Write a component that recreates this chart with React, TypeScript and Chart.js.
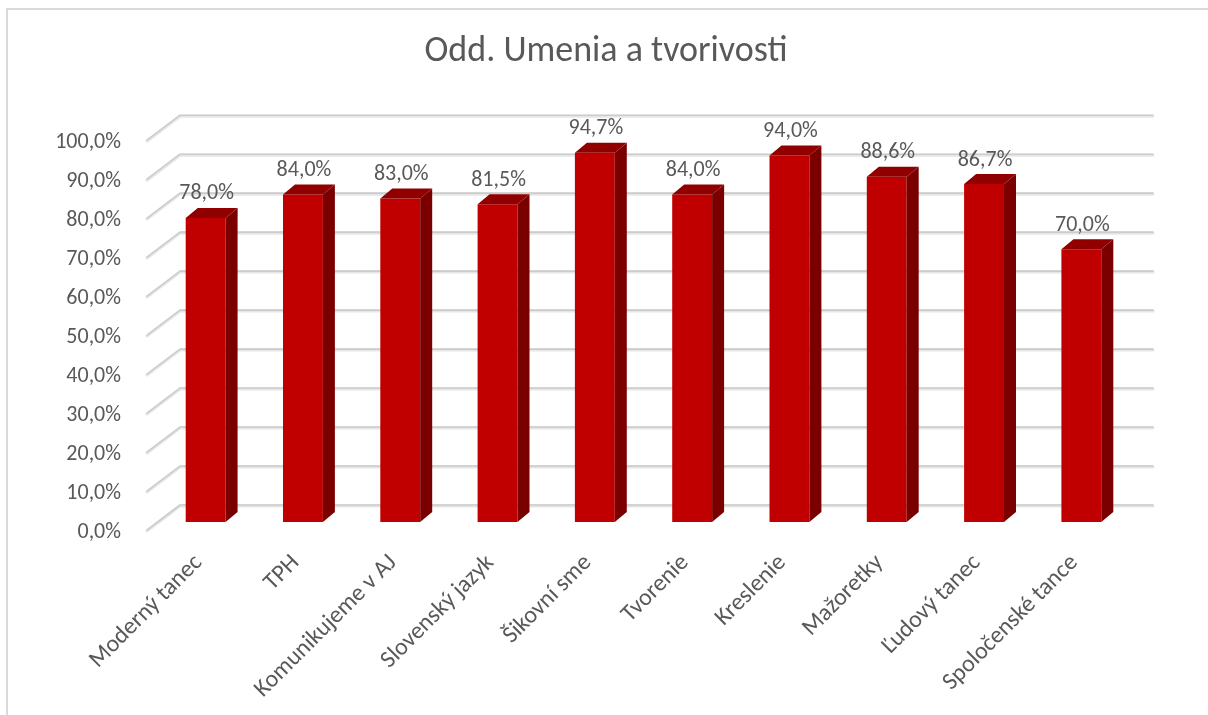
import React, { useEffect, useRef } from 'react';
import { Chart, registerables } from 'chart.js';

Chart.register(...registerables);

const chartTitle = 'Odd. Umenia a tvorivosti';
const categories = [
  'Moderný tanec',
  'TPH',
  'Komunikujeme v AJ',
  'Slovenský jazyk',
  'Šikovní sme',
  'Tvorenie',
  'Kreslenie',
  'Mažoretky',
  'Ľudový tanec',
  'Spoločenské tance',
];
const values = [78.0, 84.0, 83.0, 81.5, 94.7, 84.0, 94.0, 88.6, 86.7, 70.0];
const yMin = 0;
const yMax = 100;
const yStep = 10;

const FONT = 'Carlito, Calibri, Lato, sans-serif';
const TEXT_COLOR = '#595959';

const fmt = (v: number) => v.toFixed(1).replace('.', ',') + '%';

const DX = 12;
const DY = 10;

const threeD = {
  id: 'threeD',
  beforeDatasetsDraw(chart: any) {
    const { ctx, chartArea, scales } = chart;
    const { left, right } = chartArea;
    const y = scales.y;
    ctx.save();
    y.ticks.forEach((t: any) => {
      const yp = y.getPixelForValue(t.value);
      const pts = [
        [left - 10, yp + 8],
        [left + 23, yp - 17],
        [right + 23, yp - 17],
      ];
      const stroke = (color: string, w: number, off: number) => {
        ctx.beginPath();
        ctx.moveTo(pts[0][0], pts[0][1] + off);
        ctx.lineTo(pts[1][0], pts[1][1] + off);
        ctx.lineTo(pts[2][0], pts[2][1] + off);
        ctx.strokeStyle = color;
        ctx.lineWidth = w;
        ctx.lineCap = 'round';
        ctx.lineJoin = 'round';
        ctx.stroke();
      };
      stroke('#e6e6e6', 3, 1);
      stroke('#cccccc', 1.6, 0);
    });
    ctx.restore();
  },
  afterDatasetsDraw(chart: any) {
    const { ctx } = chart;
    const meta = chart.getDatasetMeta(0);
    ctx.save();
    meta.data.forEach((bar: any, i: number) => {
      const { x, y, width, base } = bar.getProps(['x', 'y', 'width', 'base'], true);
      const l = x - width / 2;
      const r = x + width / 2;
      // side face
      ctx.beginPath();
      ctx.moveTo(r, y);
      ctx.lineTo(r + DX, y - DY);
      ctx.lineTo(r + DX, base - DY);
      ctx.lineTo(r, base);
      ctx.closePath();
      ctx.fillStyle = '#7a0000';
      ctx.fill();
      // top face
      ctx.beginPath();
      ctx.moveTo(l, y);
      ctx.lineTo(l + DX, y - DY);
      ctx.lineTo(r + DX, y - DY);
      ctx.lineTo(r, y);
      ctx.closePath();
      ctx.fillStyle = '#900000';
      ctx.fill();
      // value label
      ctx.fillStyle = TEXT_COLOR;
      ctx.font = `22px ${FONT}`;
      ctx.textAlign = 'center';
      ctx.textBaseline = 'middle';
      ctx.fillText(fmt(values[i]), x + 1, y - 24);
    });
    ctx.restore();
  },
};

export default function App() {
  const ref = useRef<HTMLCanvasElement | null>(null);

  useEffect(() => {
    if (!ref.current) return;
    const chart = new Chart(ref.current, {
      type: 'bar',
      data: {
        labels: categories,
        datasets: [
          {
            data: values,
            backgroundColor: '#c00000',
            borderWidth: 0,
            barPercentage: 0.41,
            categoryPercentage: 1,
          },
        ],
      },
      options: {
        responsive: false,
        animation: false,
        layout: { padding: { left: 4, right: 0, top: 0, bottom: 0 } },
        plugins: {
          legend: { display: false },
          tooltip: { enabled: false },
          title: {
            display: true,
            text: chartTitle,
            color: TEXT_COLOR,
            font: { family: FONT, size: 36, weight: 'normal' as any, lineHeight: 1.2 },
            padding: { top: 30, bottom: 59 },
          },
        },
        scales: {
          x: {
            grid: { display: false },
            border: { display: false },
            ticks: {
              color: TEXT_COLOR,
              font: { family: FONT, size: 24 },
              minRotation: 45,
              maxRotation: 45,
              autoSkip: false,
              labelOffset: -7,
              padding: 19,
            },
            afterFit: (s: any) => {
              s.height = 193;
            },
          },
          y: {
            min: yMin,
            max: yMax,
            grid: { display: false },
            border: { display: false },
            ticks: {
              stepSize: yStep,
              color: TEXT_COLOR,
              font: { family: FONT, size: 22 },
              padding: 28,
              labelOffset: 10,
              callback: (v: any) => fmt(Number(v)),
            },
            afterFit: (s: any) => {
              s.width = 153;
            },
          },
          yRight: {
            position: 'right',
            display: true,
            grid: { display: false },
            border: { display: false },
            ticks: { display: false },
            afterFit: (s: any) => {
              s.width = 78;
            },
          },
        },
      },
      plugins: [threeD],
    });
    return () => chart.destroy();
  }, []);

  return (
    <>
      <div
        style={{
          position: 'fixed',
          left: 6,
          top: 8,
          width: 1230,
          height: 740,
          border: '2px solid #d9d9d9',
          boxSizing: 'border-box',
        }}
      />
      <canvas
        ref={ref}
        width={1208}
        height={715}
        style={{ position: 'fixed', left: 0, top: 0, width: 1208, height: 715 }}
      />
    </>
  );
}
